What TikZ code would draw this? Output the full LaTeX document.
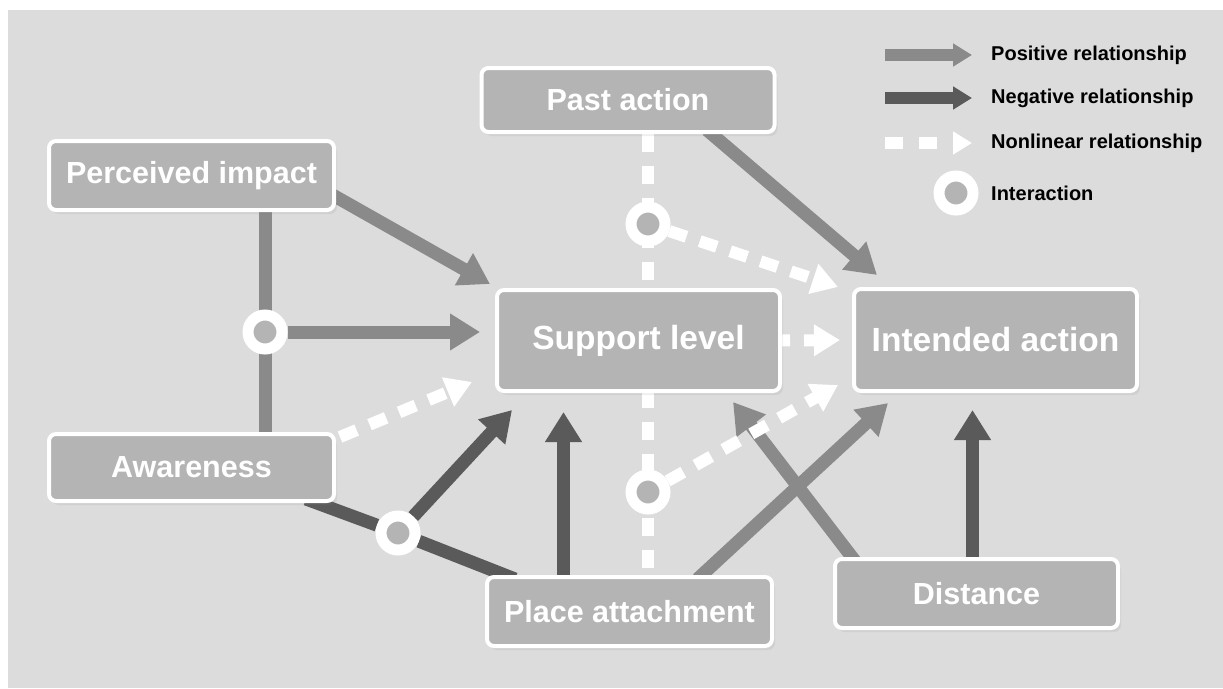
\documentclass[tikz,border=0pt]{standalone}
\usepackage{fontspec}
\setmainfont{Liberation Sans}
\usetikzlibrary{arrows.meta,shadows}

\pgfdeclarelayer{bg}
\pgfdeclarelayer{edges}
\pgfsetlayers{bg,edges,main}

\definecolor{canvasgray}{HTML}{DCDCDC}
\definecolor{boxgray}{HTML}{B4B4B4}
\definecolor{posgray}{HTML}{8A8A8A}
\definecolor{neggray}{HTML}{5A5A5A}

\tikzset{
  box/.style={draw=white, line width=4pt, fill=boxgray, rounded corners=7pt,
    text=white, inner sep=0pt, font=\fontsize{30.5}{36}\selectfont\bfseries,
    drop shadow={shadow xshift=3pt, shadow yshift=-4pt, opacity=.12}},
  bigbox/.style={box, font=\fontsize{33.5}{40}\selectfont\bfseries},
  posline/.style={draw=posgray, line width=13pt},
  negline/.style={draw=neggray, line width=13pt, line join=round},
  posarr/.style={posline, -{Triangle[width=35pt,length=30pt]}},
  negarr/.style={negline, -{Triangle[width=35pt,length=30pt]}},
  nlline/.style={draw=white, line width=12pt, dash pattern=on 18pt off 14pt},
  nlarr/.style={nlline, -{Triangle[width=30pt,length=26pt]}},
  ixring/.style={circle, draw=white, line width=11pt, fill=boxgray,
    minimum size=34pt, inner sep=0pt},
  legtext/.style={anchor=west, text=black, inner sep=0pt,
    font=\fontsize{20}{24}\selectfont\bfseries},
}

\begin{document}
\begin{tikzpicture}[x=1pt, y=-1pt]
  \useasboundingbox (0,0) rectangle (1223,688);
  % Canvas
  \begin{pgfonlayer}{bg}
    \fill[white] (0,0) rectangle (1223,688);
    \fill[canvasgray] (8,10) rectangle (1223,688);
  \end{pgfonlayer}

  % Factors
  \node[box, minimum width=293pt, minimum height=64pt] (pastAction) at (628,100) {Past action};
  \node[box, minimum width=285pt, minimum height=69pt] (percImpact) at (191.5,175.5) {Perceived impact};
  \node[bigbox, minimum width=283pt, minimum height=101pt] (support) at (638.5,340.5) {Support level};
  \node[bigbox, minimum width=283pt, minimum height=102pt] (intended) at (995.5,340) {Intended action};
  \node[box, minimum width=285pt, minimum height=67pt] (awareness) at (191.5,467.5) {Awareness};
  \node[box, minimum width=285pt, minimum height=69pt] (placeAtt) at (629.5,611.5) {Place attachment};
  \node[box, minimum width=283pt, minimum height=69pt] (distance) at (976.5,593.5) {Distance};

  % Interactions
  \node[ixring] (ixA) at (265,332) {};
  \node[ixring] (ixB) at (398,533) {};
  \node[ixring] (ixC) at (648,224) {};
  \node[ixring] (ixD) at (648,492) {};

  % Relationships
  \begin{pgfonlayer}{edges}
    \draw[posarr] ([xshift=-6pt,yshift=-18pt]percImpact.east) -- ([xshift=-5pt,yshift=4pt]support.north west);
    \draw[posline] (ixA |- percImpact.south) -- (ixA |- awareness.north);
    \draw[posarr, shorten >=15pt] (ixA) -- (ixA -| support.west);
    \draw[nlarr] ([xshift=4pt,yshift=-5pt]awareness.north east) -- ([xshift=-23pt,yshift=11pt]support.south west);
    \draw[negline] ([xshift=-30pt,yshift=4pt]awareness.south east) -- (ixB) -- ([xshift=30pt,yshift=-4pt]placeAtt.north west);
    \draw[negarr] (ixB) -- ([xshift=17pt,yshift=-17pt]support.south west);
    \draw[negarr, shorten >=19pt] ([xshift=-66pt]placeAtt.north) -- ([xshift=-66pt]placeAtt.north |- support.south);
    \draw[posarr] ([xshift=68pt,yshift=-4pt]placeAtt.north) -- ([xshift=36pt,yshift=-10pt]intended.south west);
    \draw[posarr] ([xshift=22pt,yshift=-4pt]distance.north west) -- ([xshift=-49pt,yshift=-9pt]support.south east);
    \draw[negarr, shorten >=17pt] ([xshift=-4pt]distance.north) -- ([xshift=-4pt]distance.north |- intended.south);
    \draw[nlarr, dash phase=10pt, shorten >=12pt] (support.east) -- (intended.west);
    \draw[nlline] (ixC |- pastAction.south) -- (ixC |- placeAtt.north);
    \draw[nlarr] (ixC) -- ([xshift=-14pt]intended.north west);
    \draw[nlarr] (ixD) -- ([xshift=-14pt,yshift=8pt]intended.south west);
    \draw[posarr] ([xshift=79pt,yshift=4pt]pastAction.south) -- ([xshift=25pt,yshift=12pt]intended.north west);
  \end{pgfonlayer}

  % Legend
  \node[legtext] (lgPos) at (991,55) {Positive relationship};
  \node[legtext] (lgNeg) at (991,98) {Negative relationship};
  \node[legtext] (lgNl) at (991,143) {Nonlinear relationship};
  \node[legtext] (lgIx) at (991,193) {Interaction};
  \coordinate (lgStart) at (885,55);
  \draw[draw=posgray, line width=12pt, -{Triangle[width=22pt,length=19pt]}]
    (lgStart |- lgPos.west) -- ([xshift=-19pt]lgPos.west);
  \draw[draw=neggray, line width=12pt, -{Triangle[width=22pt,length=19pt]}]
    (lgStart |- lgNeg.west) -- ([xshift=-19pt]lgNeg.west);
  \draw[draw=white, line width=12pt, dash pattern=on 18pt off 16pt, -{Triangle[width=22pt,length=19pt]}]
    (lgStart |- lgNl.west) -- ([xshift=-19pt]lgNl.west);
  \node[ixring] (lgRing) at (956,193) {};
\end{tikzpicture}
\end{document}
